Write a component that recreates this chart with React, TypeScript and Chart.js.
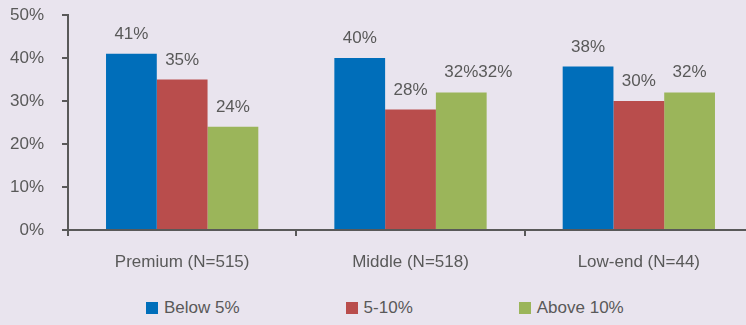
import React, { useEffect, useRef } from "react";
import { Chart, registerables } from "chart.js";

Chart.register(...registerables);

const categories = ["Premium (N=515)", "Middle (N=518)", "Low-end (N=44)"];
const seriesNames = ["Below 5%", "5-10%", "Above 10%"];
const below5 = [41, 40, 38];
const from5to10 = [35, 28, 30];
const above10 = [24, 32, 32];
// how many times the value label is printed (the reference shows "32%32%")
const labelRepeatBelow5 = [1, 1, 1];
const labelRepeat5to10 = [1, 1, 1];
const labelRepeatAbove10 = [1, 2, 1];
const yTicks = [0, 10, 20, 30, 40, 50];

const COLORS = ["#006EBA", "#B94D4C", "#9BB55A"];
const BG = "#E9E4EE";
const TEXT = "#595959";
const FONT = "'Liberation Sans', Arial, sans-serif";
const FS = 17;

const valueLabels = {
  id: "valueLabels",
  afterDatasetsDraw(chart: any) {
    const ctx = chart.ctx;
    ctx.save();
    ctx.font = `${FS}px ${FONT}`;
    ctx.fillStyle = TEXT;
    ctx.textBaseline = "alphabetic";
    ctx.textAlign = "left";
    chart.data.datasets.forEach((ds: any, i: number) => {
      const meta = chart.getDatasetMeta(i);
      meta.data.forEach((el: any, j: number) => {
        const one = `${ds.data[j]}%`;
        const n = ds.repeat[j] || 1;
        const w = ctx.measureText(one).width;
        ctx.fillText(one.repeat(n), el.x - w / 2, el.y - 15);
      });
    });
    ctx.restore();
  },
};

export default function App() {
  const ref = useRef<HTMLCanvasElement | null>(null);
  useEffect(() => {
    document.body.style.margin = "0";
    document.body.style.background = BG;
    const canvas = ref.current!;
    const chart = new Chart(canvas, {
      type: "bar",
      data: {
        labels: categories,
        datasets: [
          { label: seriesNames[0], data: below5, backgroundColor: COLORS[0], repeat: labelRepeatBelow5 } as any,
          { label: seriesNames[1], data: from5to10, backgroundColor: COLORS[1], repeat: labelRepeat5to10 } as any,
          { label: seriesNames[2], data: above10, backgroundColor: COLORS[2], repeat: labelRepeatAbove10 } as any,
        ],
      },
      options: {
        responsive: false,
        animation: false,
        devicePixelRatio: 1,
        layout: { padding: { top: 15, left: 0, right: 0, bottom: 0 } },
        datasets: { bar: { categoryPercentage: 0.667, barPercentage: 1 } },
        plugins: {
          tooltip: { enabled: false },
          legend: { display: false },
        },
        scales: {
          x: {
            offset: true,
            grid: { display: true, drawOnChartArea: false, tickLength: 6, color: TEXT, lineWidth: 2, offset: true },
            border: { display: true, color: TEXT, width: 2 },
            ticks: { color: TEXT, font: { family: FONT, size: FS }, padding: 16, maxRotation: 0 },
            afterFit: (s: any) => { s.height = 60; s.paddingLeft = 0; s.paddingRight = 0; },
          },
          y: {
            min: 0,
            max: 50,
            afterBuildTicks: (s: any) => { s.ticks = yTicks.map((v) => ({ value: v })); },
            grid: { display: true, drawOnChartArea: false, tickLength: 6, color: TEXT, lineWidth: 2 },
            border: { display: true, color: TEXT, width: 2 },
            ticks: { color: TEXT, font: { family: FONT, size: FS }, padding: 18, callback: (v: any) => `${v}%` },
            afterFit: (s: any) => { s.width = 68; s.paddingTop = 0; s.paddingBottom = 0; },
          },
        },
      },
      plugins: [valueLabels],
    });
    return () => chart.destroy();
  }, []);
  return (
    <div style={{ width: 746, height: 325, overflow: "hidden", background: BG, position: "relative" }}>
      <canvas ref={ref} width={753} height={290} style={{ display: "block" }} />
      <div
        style={{
          display: "flex",
          alignItems: "center",
          gap: 106,
          paddingLeft: 146,
          height: 35,
          fontFamily: FONT,
          fontSize: FS,
          color: TEXT,
        }}
      >
        {seriesNames.map((name, i) => (
          <div key={name} style={{ display: "flex", alignItems: "center", gap: 6 }}>
            <span style={{ width: 12, height: 12, background: COLORS[i], display: "inline-block" }} />
            <span>{name}</span>
          </div>
        ))}
      </div>
    </div>
  );
}
